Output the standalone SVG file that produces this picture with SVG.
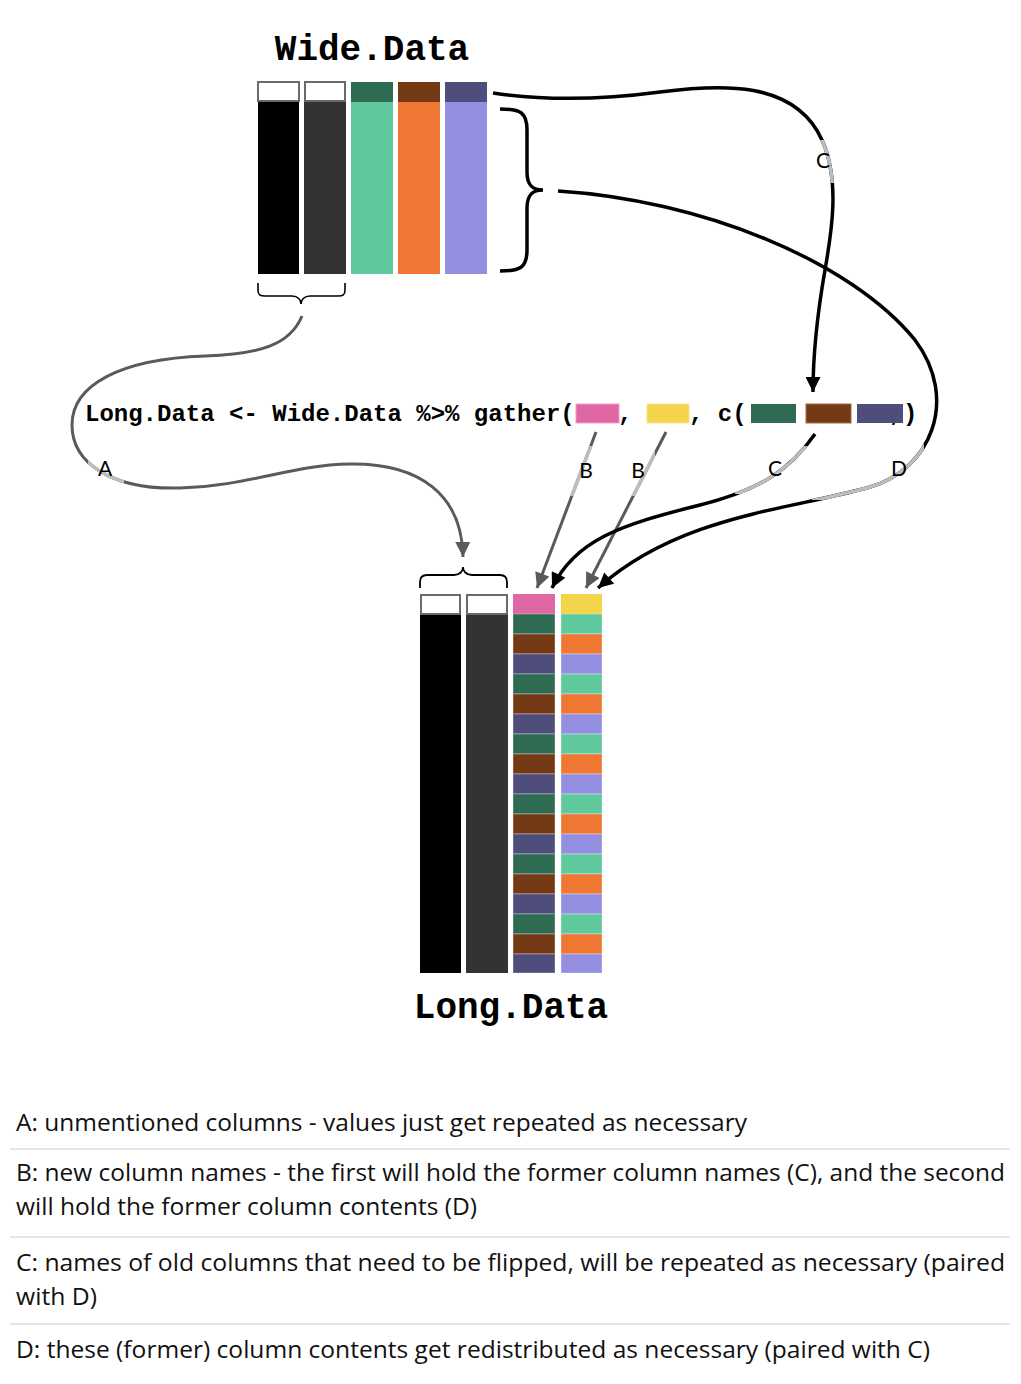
<svg xmlns="http://www.w3.org/2000/svg" width="1021" height="1384" viewBox="0 0 1021 1384">
<style>
.mono{font-family:"Liberation Mono","Courier New",monospace;font-weight:bold;fill:#000}
.lbl{font-family:"Lato","Liberation Sans",sans-serif;font-size:21px;fill:#000;text-anchor:middle}
.note{font-family:"Open Sans","Liberation Sans",sans-serif;font-size:23px;fill:#111}
.hdr{fill:#fff;stroke:#6a6a6a;stroke-width:2}
.blk{fill:none;stroke:#000;stroke-width:3.5}
.gry{fill:none;stroke:#5a5a5a;stroke-width:3}
.lite{fill:none;stroke:#bdbdbd;stroke-width:3.5}
.brace{fill:none;stroke:#000}
.sep{stroke:#dedede;stroke-width:1.5}
.cell{stroke:#ffffff;stroke-opacity:0.35;stroke-width:1}
</style>
<defs>
<marker id="ab" viewBox="0 0 10 10" refX="10" refY="5" markerWidth="16" markerHeight="15" markerUnits="userSpaceOnUse" orient="auto"><path d="M0,0 L10,5 L0,10 z" fill="#000"/></marker>
<marker id="ag" viewBox="0 0 10 10" refX="10" refY="5" markerWidth="16" markerHeight="15" markerUnits="userSpaceOnUse" orient="auto"><path d="M0,0 L10,5 L0,10 z" fill="#5a5a5a"/></marker>
<clipPath id="cA"><rect x="88" y="452" width="36" height="34"/></clipPath>
<clipPath id="cB1"><rect x="560" y="446" width="40" height="50"/></clipPath>
<clipPath id="cB2"><rect x="615" y="446" width="40" height="50"/></clipPath>
<clipPath id="cCt"><rect x="805" y="140" width="45" height="43"/></clipPath>
<clipPath id="cC"><rect x="735" y="446" width="75" height="48"/></clipPath>
<clipPath id="cD"><rect x="812" y="444" width="112" height="56"/></clipPath>
</defs>

<g id="wide-title"><text class="mono" x="372" y="60" font-size="36" text-anchor="middle">Wide.Data</text></g>

<g id="wide-data">
<rect class="hdr" x="258" y="82" width="41" height="19"/>
<rect x="258" y="102" width="41" height="172" fill="#000"/>
<rect class="hdr" x="305" y="82" width="40" height="19"/>
<rect x="304" y="102" width="42" height="172" fill="#333"/>
<rect x="351" y="82" width="42" height="20" fill="#2F6A53"/>
<rect x="351" y="102" width="42" height="172" fill="#5FC89C"/>
<rect x="398" y="82" width="42" height="20" fill="#743A16"/>
<rect x="398" y="102" width="42" height="172" fill="#EE7733"/>
<rect x="445" y="82" width="42" height="20" fill="#4F4D7B"/>
<rect x="445" y="102" width="42" height="172" fill="#948FE0"/>
</g>

<g id="brace-values"><path class="brace" stroke-width="3.5" d="M500,109 C520,109 527,112 527,130 L527,172 C527,186 533,190 543,190 C533,190 527,194 527,208 L527,250 C527,268 520,271 500,271"/></g>
<g id="brace-id"><path class="brace" stroke-width="1.6" d="M258,283 L258,290 C258,295 260,296 265,296 L292,296 C298,296 301,300 301,304 C301,300 304,296 310,296 L338,296 C343,296 345,295 345,290 L345,283"/></g>

<g id="code">
<text class="mono" x="85" y="421" font-size="24">Long.Data &lt;- Wide.Data %&gt;% gather(</text>
<rect x="576" y="404" width="43" height="19" fill="#DF67A4" stroke="#EBA3C7" stroke-width="1"/>
<text class="mono" x="618" y="421" font-size="24">,</text>
<rect x="647" y="404" width="42" height="19" fill="#F3D44A" stroke="#F7E38F" stroke-width="1"/>
<text class="mono" x="689" y="421" font-size="24">, c(</text>
<text class="mono" x="889" y="421" font-size="24">,</text>
<rect x="751" y="404" width="45" height="19" fill="#2F6A53"/>
<rect x="806" y="404" width="45" height="19" fill="#743A16" stroke="#9c6a4a" stroke-width="1"/>
<rect x="857" y="404" width="46" height="19" fill="#4F4D7B"/>
<text class="mono" x="903" y="421" font-size="24">)</text>
</g>

<g id="long-brace"><path class="brace" stroke-width="1.8" d="M420,588 L420,582 C420,577 422,575 427,575 L454,575 C460,575 463,571 463,567 C463,571 466,575 472,575 L500,575 C505,575 507,577 507,582 L507,588"/></g>

<g id="long-data">
<rect class="hdr" x="421" y="595" width="39" height="19"/>
<rect x="420" y="615" width="41" height="358" fill="#000"/>
<rect class="hdr" x="467" y="595" width="40" height="19"/>
<rect x="466" y="615" width="42" height="358" fill="#333"/>
<rect x="513" y="594" width="42" height="20" fill="#DF67A4"/>
<rect x="561" y="594" width="41" height="20" fill="#F3D44A"/>
<g class="cell">
<rect x="513" y="614" width="42" height="20" fill="#2F6A53"/><rect x="561" y="614" width="41" height="20" fill="#5FC89C"/>
<rect x="513" y="634" width="42" height="20" fill="#743A16"/><rect x="561" y="634" width="41" height="20" fill="#EE7733"/>
<rect x="513" y="654" width="42" height="20" fill="#4F4D7B"/><rect x="561" y="654" width="41" height="20" fill="#948FE0"/>
<rect x="513" y="674" width="42" height="20" fill="#2F6A53"/><rect x="561" y="674" width="41" height="20" fill="#5FC89C"/>
<rect x="513" y="694" width="42" height="20" fill="#743A16"/><rect x="561" y="694" width="41" height="20" fill="#EE7733"/>
<rect x="513" y="714" width="42" height="20" fill="#4F4D7B"/><rect x="561" y="714" width="41" height="20" fill="#948FE0"/>
<rect x="513" y="734" width="42" height="20" fill="#2F6A53"/><rect x="561" y="734" width="41" height="20" fill="#5FC89C"/>
<rect x="513" y="754" width="42" height="20" fill="#743A16"/><rect x="561" y="754" width="41" height="20" fill="#EE7733"/>
<rect x="513" y="774" width="42" height="20" fill="#4F4D7B"/><rect x="561" y="774" width="41" height="20" fill="#948FE0"/>
<rect x="513" y="794" width="42" height="20" fill="#2F6A53"/><rect x="561" y="794" width="41" height="20" fill="#5FC89C"/>
<rect x="513" y="814" width="42" height="20" fill="#743A16"/><rect x="561" y="814" width="41" height="20" fill="#EE7733"/>
<rect x="513" y="834" width="42" height="20" fill="#4F4D7B"/><rect x="561" y="834" width="41" height="20" fill="#948FE0"/>
<rect x="513" y="854" width="42" height="20" fill="#2F6A53"/><rect x="561" y="854" width="41" height="20" fill="#5FC89C"/>
<rect x="513" y="874" width="42" height="20" fill="#743A16"/><rect x="561" y="874" width="41" height="20" fill="#EE7733"/>
<rect x="513" y="894" width="42" height="20" fill="#4F4D7B"/><rect x="561" y="894" width="41" height="20" fill="#948FE0"/>
<rect x="513" y="914" width="42" height="20" fill="#2F6A53"/><rect x="561" y="914" width="41" height="20" fill="#5FC89C"/>
<rect x="513" y="934" width="42" height="20" fill="#743A16"/><rect x="561" y="934" width="41" height="20" fill="#EE7733"/>
<rect x="513" y="954" width="42" height="19" fill="#4F4D7B"/><rect x="561" y="954" width="41" height="19" fill="#948FE0"/>
</g>
</g>

<g id="long-title"><text class="mono" x="511" y="1018" font-size="36" text-anchor="middle">Long.Data</text></g>

<g id="connectors">
<path class="gry" marker-end="url(#ag)" d="M302,316 C290,345 260,354 205,356 C120,359 72,385 72,425 C72,462 110,490 180,488 C250,486 290,465 350,464 C420,463 462,495 463,557"/>
<path class="lite" clip-path="url(#cA)" d="M302,316 C290,345 260,354 205,356 C120,359 72,385 72,425 C72,462 110,490 180,488 C250,486 290,465 350,464 C420,463 462,495 463,540"/>
<path class="gry" marker-end="url(#ag)" d="M596,432 L537,588"/>
<path class="lite" clip-path="url(#cB1)" d="M596,432 L537,588"/>
<path class="gry" marker-end="url(#ag)" d="M666,432 L586,588"/>
<path class="lite" clip-path="url(#cB2)" d="M666,432 L586,588"/>
<path class="blk" marker-end="url(#ab)" d="M493,93 C540,100 600,100 660,92 C720,84 795,80 822,140 C840,180 832,230 825,270 C818,310 813,350 813,392"/>
<path class="lite" clip-path="url(#cCt)" d="M493,93 C540,100 600,100 660,92 C720,84 795,80 822,140 C840,180 832,230 825,270 C818,310 813,350 813,380"/>
<path class="blk" marker-end="url(#ab)" d="M815,434 C790,470 760,490 700,505 C620,525 575,540 552,588"/>
<path class="lite" clip-path="url(#cC)" d="M815,434 C790,470 760,490 700,505 C620,525 575,540 552,588"/>
<path class="blk" marker-end="url(#ab)" d="M558,191 C700,200 850,260 915,340 C960,400 930,470 870,487 C790,510 680,515 598,588"/>
<path class="lite" clip-path="url(#cD)" d="M558,191 C700,200 850,260 915,340 C960,400 930,470 870,487 C790,510 680,515 598,588"/>
</g>

<g id="labels">
<text class="lbl" x="105" y="476">A</text>
<text class="lbl" x="586" y="478">B</text>
<text class="lbl" x="638" y="478">B</text>
<text class="lbl" x="775" y="476">C</text>
<text class="lbl" x="899" y="476">D</text>
<text class="lbl" x="823" y="168">C</text>
</g>

<g id="notes">
<text class="note" x="16" y="1131" textLength="731" lengthAdjust="spacingAndGlyphs">A: unmentioned columns - values just get repeated as necessary</text>
<line class="sep" x1="10" y1="1149" x2="1010" y2="1149"/>
<text class="note" x="16" y="1181" textLength="989" lengthAdjust="spacingAndGlyphs">B: new column names - the first will hold the former column names (C), and the second</text>
<text class="note" x="16" y="1215" textLength="461" lengthAdjust="spacingAndGlyphs">will hold the former column contents (D)</text>
<line class="sep" x1="10" y1="1237" x2="1010" y2="1237"/>
<text class="note" x="16" y="1271" textLength="989" lengthAdjust="spacingAndGlyphs">C: names of old columns that need to be flipped, will be repeated as necessary (paired</text>
<text class="note" x="16" y="1305" textLength="81" lengthAdjust="spacingAndGlyphs">with D)</text>
<line class="sep" x1="10" y1="1324" x2="1010" y2="1324"/>
<text class="note" x="16" y="1358" textLength="914" lengthAdjust="spacingAndGlyphs">D: these (former) column contents get redistributed as necessary (paired with C)</text>
</g>
</svg>
